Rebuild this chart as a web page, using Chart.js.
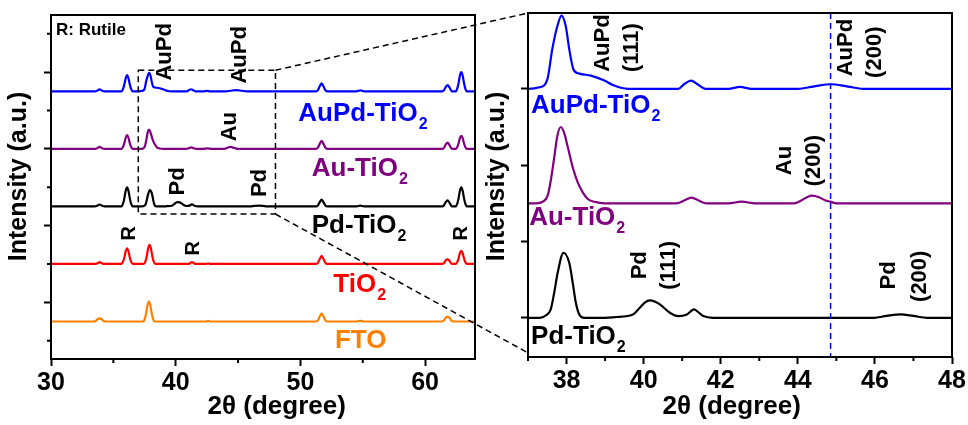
<!DOCTYPE html>
<html>
<head>
<meta charset="utf-8">
<script src="https://cdn.jsdelivr.net/npm/chart.js@4/dist/chart.umd.min.js"></script>
<style>
html, body { margin: 0; padding: 0; background: #fff; }
#wrap { position: relative; width: 968px; height: 425px; }
#wrap canvas { position: absolute; top: 0; }
#left { left: 0; }
#right { left: 484px; }
#links { left: 0; pointer-events: none; }
</style>
</head>
<body>
<div id="wrap">
  <canvas id="left" width="484" height="425"></canvas>
  <canvas id="right" width="484" height="425"></canvas>
  <canvas id="links" width="968" height="425"></canvas>
</div>
<script>
// XRD patterns: [2theta, intensity above own baseline]
const fto = [
  [30, 0], [33.45, 0], [33.6, 0.02], [33.75, 0.065], [33.9, 0.08], [34.05, 0.065], [34.2, 0.02], [34.35, 0],
  [37.4, 0], [37.52, 0.068], [37.63, 0.22], [37.74, 0.43], [37.85, 0.52], [37.96, 0.43], [38.07, 0.22], [38.18, 0.068], [38.3, 0],
  [42.4, 0], [42.6, 0.02], [42.8, 0],
  [51.25, 0], [51.4, 0.03], [51.55, 0.13], [51.7, 0.21], [51.85, 0.13], [52.0, 0.03], [52.15, 0],
  [54.5, 0], [54.8, 0.02], [55.1, 0],
  [61.35, 0], [61.5, 0.025], [61.65, 0.1], [61.8, 0.13], [61.95, 0.1], [62.1, 0.025], [62.25, 0], [64, 0]
];

const tio2 = [
  [30, 0], [33.5, 0], [33.7, 0.015], [33.9, 0.05], [34.1, 0.015], [34.3, 0],
  [35.65, 0], [35.77, 0.055], [35.88, 0.17], [35.99, 0.33], [36.1, 0.41], [36.21, 0.33], [36.32, 0.17], [36.43, 0.055], [36.55, 0],
  [37.45, 0], [37.57, 0.065], [37.68, 0.21], [37.79, 0.41], [37.9, 0.5], [38.01, 0.41], [38.12, 0.21], [38.23, 0.065], [38.35, 0],
  [41.0, 0], [41.15, 0.02], [41.3, 0.05], [41.45, 0.02], [41.6, 0],
  [42.4, 0], [42.6, 0.015], [42.8, 0],
  [51.25, 0], [51.4, 0.03], [51.55, 0.13], [51.7, 0.21], [51.85, 0.13], [52.0, 0.03], [52.15, 0],
  [61.35, 0], [61.5, 0.02], [61.65, 0.09], [61.8, 0.13], [61.95, 0.08], [62.15, 0],
  [62.45, 0], [62.57, 0.044], [62.68, 0.14], [62.79, 0.28], [62.9, 0.34], [63.01, 0.28], [63.12, 0.14], [63.23, 0.044], [63.35, 0], [64, 0]
];

const pdTio2 = [
  [30, 0], [33.5, 0], [33.7, 0.015], [33.9, 0.05], [34.1, 0.015], [34.3, 0],
  [35.65, 0], [35.77, 0.065], [35.88, 0.21], [35.99, 0.41], [36.1, 0.5], [36.21, 0.41], [36.32, 0.21], [36.43, 0.065], [36.55, 0],
  [37.3, 0], [37.46, 0.015], [37.59, 0.055], [37.68, 0.164], [37.77, 0.295], [37.92, 0.426], [38.07, 0.36], [38.16, 0.23], [38.24, 0.1], [38.33, 0.022], [38.46, 0],
  [39.0, 0], [39.29, 0.005], [39.55, 0.01], [39.73, 0.022], [39.9, 0.065], [40.03, 0.1], [40.16, 0.114], [40.3, 0.105], [40.42, 0.088], [40.68, 0.033], [40.9, 0.011],
  [41.11, 0.02], [41.31, 0.055], [41.45, 0.03], [41.55, 0.011], [41.8, 0],
  [45.97, 0], [46.3, 0.012], [46.67, 0.022], [47.0, 0.012], [47.36, 0],
  [51.25, 0], [51.4, 0.025], [51.55, 0.11], [51.7, 0.18], [51.85, 0.11], [52.0, 0.025], [52.15, 0],
  [54.5, 0], [54.8, 0.02], [55.1, 0],
  [61.35, 0], [61.5, 0.025], [61.65, 0.11], [61.8, 0.16], [61.95, 0.1], [62.15, 0],
  [62.45, 0], [62.57, 0.065], [62.68, 0.21], [62.79, 0.41], [62.9, 0.5], [63.01, 0.41], [63.12, 0.21], [63.23, 0.065], [63.35, 0], [64, 0]
];

const auTio2 = [
  [30, 0], [33.5, 0], [33.7, 0.015], [33.9, 0.05], [34.1, 0.015], [34.3, 0],
  [35.65, 0], [35.77, 0.047], [35.88, 0.15], [35.99, 0.29], [36.1, 0.36], [36.21, 0.29], [36.32, 0.15], [36.43, 0.047], [36.55, 0],
  [37.2, 0], [37.38, 0.01], [37.51, 0.05], [37.59, 0.148], [37.68, 0.3], [37.76, 0.44], [37.85, 0.5], [37.94, 0.46], [38.03, 0.37],
  [38.16, 0.236], [38.29, 0.137], [38.42, 0.072], [38.55, 0.028], [38.72, 0.01], [39.0, 0],
  [40.85, 0], [41.05, 0.018], [41.24, 0.037], [41.43, 0.018], [41.63, 0],
  [42.2, 0], [42.54, 0.011], [42.9, 0],
  [43.9, 0], [44.1, 0.02], [44.25, 0.042], [44.37, 0.05], [44.55, 0.04], [44.72, 0.018], [44.84, 0.011], [45.0, 0],
  [51.25, 0], [51.4, 0.03], [51.55, 0.13], [51.7, 0.21], [51.85, 0.13], [52.0, 0.03], [52.15, 0],
  [61.35, 0], [61.5, 0.025], [61.65, 0.11], [61.8, 0.16], [61.95, 0.1], [62.15, 0],
  [62.45, 0], [62.57, 0.044], [62.68, 0.14], [62.79, 0.28], [62.9, 0.34], [63.01, 0.28], [63.12, 0.14], [63.23, 0.044], [63.35, 0], [64, 0]
];

const aupdTio2 = [
  [30, 0], [33.5, 0], [33.7, 0.015], [33.9, 0.05], [34.1, 0.015], [34.3, 0],
  [35.65, 0], [35.77, 0.055], [35.88, 0.18], [35.99, 0.34], [36.1, 0.42], [36.21, 0.34], [36.32, 0.18], [36.43, 0.055], [36.55, 0],
  [37.0, 0], [37.3, 0.01], [37.5, 0.06], [37.63, 0.26], [37.76, 0.41], [37.87, 0.48], [37.98, 0.41], [38.07, 0.26], [38.18, 0.127],
  [38.33, 0.1], [38.63, 0.087], [38.98, 0.054], [39.2, 0.025], [39.41, 0.007], [39.6, 0],
  [40.9, 0], [41.05, 0.03], [41.23, 0.054], [41.4, 0.03], [41.6, 0],
  [42.2, 0], [42.5, 0.013], [42.8, 0],
  [44.0, 0], [44.4, 0.015], [44.85, 0.03], [45.3, 0.015], [45.7, 0],
  [51.25, 0], [51.4, 0.03], [51.55, 0.13], [51.7, 0.21], [51.85, 0.13], [52.0, 0.03], [52.15, 0],
  [54.5, 0], [54.8, 0.025], [55.1, 0],
  [61.35, 0], [61.5, 0.025], [61.65, 0.11], [61.8, 0.16], [61.95, 0.1], [62.15, 0],
  [62.45, 0], [62.57, 0.065], [62.68, 0.21], [62.79, 0.41], [62.9, 0.5], [63.01, 0.41], [63.12, 0.21], [63.23, 0.065], [63.35, 0], [64, 0]
];

// stacking offsets: overview (FTO, TiO2, Pd, Au, AuPd) and zoom (Pd, Au, AuPd)
const overviewOffsets = [0.5, 2.0, 3.5, 5.0, 6.5];
const zoomOffsets = [0, 0.75, 1.5];

// axes
const overviewTicksX = [30, 40, 50, 60];
const overviewMinorX = [35, 45, 55];
const overviewTicksY = [1, 3, 5, 7];
const overviewMinorY = [0, 2, 4, 6, 8];
const zoomTicksX = [38, 40, 42, 44, 46, 48];
const zoomMinorX = [37, 39, 41, 43, 45, 47];
const zoomTicksY = [0, 0.5, 1, 1.5];

// zoom window drawn on the overview, and the AuPd(200) guide
const zoomWindowX = [37, 48];
const zoomWindowY = [3.3, 7.05];
const aupd200 = 44.85;

const BLUE = '#0000FF', PURPLE = '#800080', BLACK = '#000000', RED = '#FF0000', ORANGE = '#FF8000';
const FAMILY = '"Liberation Sans", Arial, sans-serif';
const font = size => 'bold ' + size + 'px ' + FAMILY;

Chart.defaults.font.family = FAMILY;
Chart.defaults.font.weight = 'bold';
Chart.defaults.color = '#000';

const shift = (pts, off) => pts.map(([x, y]) => ({x: x, y: y + off}));

function trace(pts, off, color) {
    return {
        data: shift(pts, off),
        borderColor: color,
        borderWidth: 2.2,
        pointRadius: 0,
        fill: false,
        cubicInterpolationMode: 'monotone'
    };
}

function drawNote(ctx, n, px, py) {
    ctx.save();
    ctx.fillStyle = n.color || BLACK;
    ctx.translate(px, py);
    if (n.rot) {
        ctx.rotate(-Math.PI / 2);
        ctx.font = font(n.size || 22);
        ctx.textAlign = 'center';
        ctx.textBaseline = 'middle';
        ctx.fillText(n.t, 0, 0);
    } else {
        ctx.font = font(n.size || 26);
        ctx.textAlign = 'left';
        ctx.textBaseline = 'alphabetic';
        ctx.fillText(n.t, 0, 0);
        if (n.sub) {
            const w = ctx.measureText(n.t).width;
            ctx.font = font(16);
            ctx.fillText(n.sub, w + 1, 8);
        }
    }
    ctx.restore();
}

// frame, minor ticks, annotations and axis titles
function decor(cfg) {
    return {
        id: 'decor',
        afterDatasetsDraw(chart) {
            const ctx = chart.ctx, xs = chart.scales.x, ys = chart.scales.y, a = chart.chartArea;
            ctx.save();
            ctx.lineWidth = 1.5;
            if (cfg.box) {
                ctx.strokeStyle = BLACK;
                ctx.setLineDash([6, 4]);
                const x0 = xs.getPixelForValue(cfg.box.x[0]), x1 = xs.getPixelForValue(cfg.box.x[1]);
                const y0 = ys.getPixelForValue(cfg.box.y[1]), y1 = ys.getPixelForValue(cfg.box.y[0]);
                ctx.strokeRect(x0, y0, x1 - x0, y1 - y0);
            }
            if (cfg.vline !== undefined) {
                ctx.strokeStyle = BLUE;
                ctx.setLineDash([6, 4]);
                const x = xs.getPixelForValue(cfg.vline);
                ctx.beginPath();
                ctx.moveTo(x, a.top);
                ctx.lineTo(x, a.bottom);
                ctx.stroke();
            }
            ctx.restore();
            cfg.notes.forEach(n => drawNote(ctx, n, xs.getPixelForValue(n.x), ys.getPixelForValue(n.y)));
        },
        afterDraw(chart) {
            const ctx = chart.ctx, xs = chart.scales.x, ys = chart.scales.y, a = chart.chartArea;
            ctx.save();
            ctx.strokeStyle = BLACK;
            ctx.lineWidth = 2;
            ctx.strokeRect(a.left, a.top, a.right - a.left, a.bottom - a.top);
            ctx.beginPath();
            cfg.minorX.forEach(v => {
                const x = xs.getPixelForValue(v);
                ctx.moveTo(x, a.bottom);
                ctx.lineTo(x, a.bottom + 4);
            });
            cfg.minorY.forEach(v => {
                const y = ys.getPixelForValue(v);
                ctx.moveTo(a.left, y);
                ctx.lineTo(a.left - 4, y);
            });
            ctx.stroke();

            ctx.fillStyle = BLACK;
            ctx.font = font(26);
            ctx.textAlign = 'center';
            ctx.textBaseline = 'alphabetic';
            ctx.fillText('2\u03B8 (degree)', cfg.xTitle[0], cfg.xTitle[1]);
            ctx.font = font(25);
            ctx.translate(cfg.yTitle[0], cfg.yTitle[1]);
            ctx.rotate(-Math.PI / 2);
            ctx.textBaseline = 'middle';
            ctx.fillText('Intensity (a.u.)', 0, 0);
            ctx.restore();
        }
    };
}

function panel(canvasId, datasets, s, cfg) {
    return new Chart(document.getElementById(canvasId), {
        type: 'line',
        data: {datasets: datasets},
        plugins: [decor(cfg)],
        options: {
            responsive: false,
            animation: false,
            events: [],
            layout: {padding: s.padding},
            plugins: {legend: {display: false}, tooltip: {enabled: false}},
            scales: {
                x: {
                    type: 'linear',
                    min: s.xMin,
                    max: s.xMax,
                    afterBuildTicks: sc => { sc.ticks = s.ticksX.map(v => ({value: v})); },
                    afterFit: sc => { sc.height = s.xHeight; },
                    border: {display: false},
                    grid: {drawOnChartArea: false, drawTicks: true, tickLength: 7, tickWidth: 2, tickColor: BLACK},
                    ticks: {font: {size: 25, weight: 'bold'}, color: BLACK, padding: 2, maxRotation: 0, autoSkip: false}
                },
                y: {
                    type: 'linear',
                    min: s.yMin,
                    max: s.yMax,
                    afterBuildTicks: sc => { sc.ticks = s.ticksY.map(v => ({value: v})); },
                    afterFit: sc => { sc.width = s.yWidth; },
                    border: {display: false},
                    grid: {drawOnChartArea: false, drawTicks: true, tickLength: 7, tickWidth: 2, tickColor: BLACK},
                    ticks: {display: false}
                }
            }
        }
    });
}

const leftNotes = [
    {t: 'R: Rutile', x: 30.4, y: 7.97, size: 17},
    {t: 'AuPd', x: 39.14, y: 7.53, rot: true},
    {t: 'AuPd', x: 45.16, y: 7.45, rot: true},
    {t: 'Au', x: 44.35, y: 5.58, rot: true},
    {t: 'Pd', x: 40.21, y: 4.15, rot: true},
    {t: 'Pd', x: 46.76, y: 4.11, rot: true},
    {t: 'R', x: 36.27, y: 2.8, rot: true, size: 20},
    {t: 'R', x: 41.41, y: 2.41, rot: true, size: 20},
    {t: 'R', x: 62.93, y: 2.8, rot: true, size: 20},
    {t: 'AuPd-TiO', sub: '2', x: 49.83, y: 5.73, color: BLUE},
    {t: 'Au-TiO', sub: '2', x: 50.91, y: 4.28, color: PURPLE},
    {t: 'Pd-TiO', sub: '2', x: 50.91, y: 2.8, color: BLACK},
    {t: 'TiO', sub: '2', x: 52.64, y: 1.28, color: RED},
    {t: 'FTO', x: 52.77, y: -0.19, color: ORANGE}
];

const rightNotes = [
    {t: 'AuPd', x: 38.95, y: 1.80, rot: true},
    {t: '(111)', x: 39.70, y: 1.77, rot: true},
    {t: 'AuPd', x: 45.24, y: 1.77, rot: true},
    {t: '(200)', x: 45.99, y: 1.74, rot: true},
    {t: 'Au', x: 43.67, y: 1.03, rot: true},
    {t: '(200)', x: 44.43, y: 1.03, rot: true},
    {t: 'Pd', x: 39.90, y: 0.344, rot: true},
    {t: '(111)', x: 40.65, y: 0.344, rot: true},
    {t: 'Pd', x: 46.36, y: 0.278, rot: true},
    {t: '(200)', x: 47.16, y: 0.272, rot: true},
    {t: 'AuPd-TiO', sub: '2', x: 37.08, y: 1.342, color: BLUE},
    {t: 'Au-TiO', sub: '2', x: 37.03, y: 0.611, color: PURPLE},
    {t: 'Pd-TiO', sub: '2', x: 37.08, y: -0.175, color: BLACK}
];

const leftChart = panel('left', [
    trace(fto, overviewOffsets[0], ORANGE),
    trace(tio2, overviewOffsets[1], RED),
    trace(pdTio2, overviewOffsets[2], BLACK),
    trace(auTio2, overviewOffsets[3], PURPLE),
    trace(aupdTio2, overviewOffsets[4], BLUE)
], {
    padding: {left: 0, top: 15, right: 9, bottom: 0},
    xMin: 30, xMax: 64, ticksX: overviewTicksX, xHeight: 66,
    yMin: -0.477, yMax: 8.489, ticksY: overviewTicksY, yWidth: 51
}, {
    minorX: overviewMinorX, minorY: overviewMinorY, notes: leftNotes,
    box: {x: zoomWindowX, y: zoomWindowY},
    xTitle: [276.7, 414], yTitle: [19.5, 176.5]
});

const rightChart = panel('right', [
    trace(pdTio2, zoomOffsets[0], BLACK),
    trace(auTio2, zoomOffsets[1], PURPLE),
    trace(aupdTio2, zoomOffsets[2], BLUE)
], {
    padding: {left: 0, top: 13, right: 16, bottom: 0},
    xMin: 37, xMax: 48, ticksX: zoomTicksX, xHeight: 68,
    yMin: -0.257, yMax: 1.997, ticksY: zoomTicksY, yWidth: 44
}, {
    minorX: zoomMinorX, minorY: [], notes: rightNotes,
    vline: aupd200,
    xTitle: [247.7, 414], yTitle: [13.5, 176.5]
});

// dashed lines linking the zoom window to the right panel
(function drawLinks() {
    const off = document.getElementById('right').offsetLeft;
    const lx = leftChart.scales.x, ly = leftChart.scales.y;
    const ra = rightChart.chartArea, ry = rightChart.scales.y;
    const ctx = document.getElementById('links').getContext('2d');
    ctx.strokeStyle = BLACK;
    ctx.lineWidth = 1.5;
    ctx.setLineDash([6, 4]);
    ctx.beginPath();
    ctx.moveTo(lx.getPixelForValue(zoomWindowX[1]), ly.getPixelForValue(zoomWindowY[1]));
    ctx.lineTo(off + ra.left, ra.top);
    ctx.moveTo(lx.getPixelForValue(zoomWindowX[1]), ly.getPixelForValue(zoomWindowY[0]));
    ctx.lineTo(off + ra.left, ry.getPixelForValue(-0.23));
    ctx.stroke();
})();
</script>
</body>
</html>
